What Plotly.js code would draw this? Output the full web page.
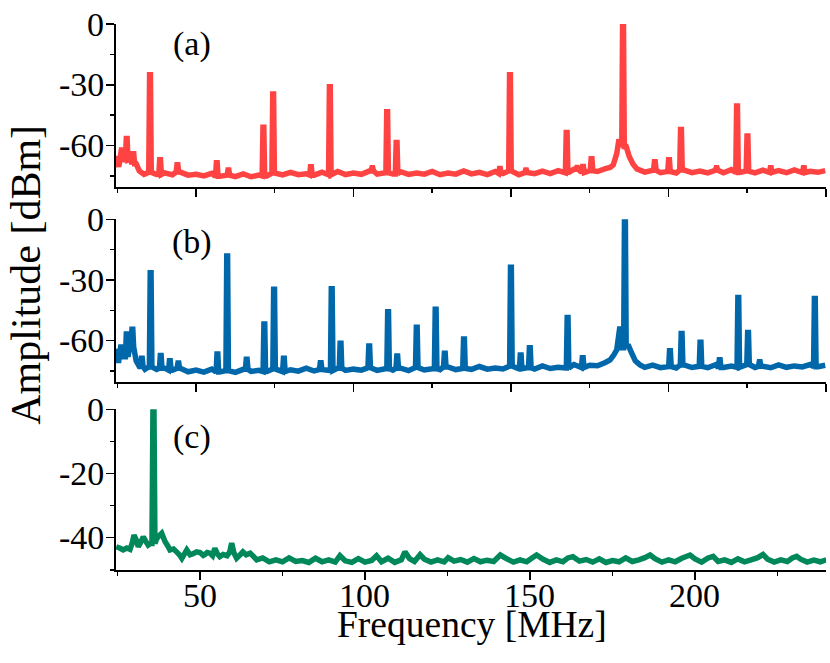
<!DOCTYPE html>
<html><head><meta charset="utf-8">
<script src="https://cdn.plot.ly/plotly-3.0.1.min.js"></script>
<style>html,body{margin:0;padding:0;background:#fff}#chart{width:830px;height:663px}</style>
</head><body><div id="chart"></div>
<script>
// ---------- Panel (a) ----------
const floorFreqA = [24.7,25.5,26.4,27.2,29.0,31.0,32.0,33.5,35,37.5,40,42.5,45,47.5,50,52.5,55,57.5,60,62.5,65,67.5,70,72.5,75,77.5,80,82.5,85,87.5,90,92.5,95,97.5,100,102.5,105,107.5,110,112.5,115,117.5,120,122.5,125,127.5,130,132.5,135,137.5,140,142.5,145,147.5,150,152.5,155,157.5,160,162.5,165,167.5,170,172.5,175,177.5,180,181.5,182.5,183.6,184.3,186.6,187.6,188.7,190,192.5,195,197.5,200,202.5,205,207.5,210,212.5,215,217.5,220,222.5,225,227.5,230,232.5,235,237.5,240,242.5,245,247.5,249.8];
const floorAmpA = [-65,-70.5,-61,-67,-66.5,-69,-72.5,-74.2,-73.2,-74.3,-73.5,-74.4,-73.1,-74.6,-74.2,-75,-73.7,-75.2,-74.6,-75.3,-74,-75.4,-74.6,-75,-73.6,-74.5,-73.2,-74.4,-73.9,-74.6,-73.1,-74.4,-72.8,-74.3,-73.6,-74.2,-72.6,-74.1,-73.4,-74,-72.9,-74.2,-73.5,-74.1,-72.8,-74.4,-73.6,-74.1,-72.5,-74,-73.2,-74.3,-72.8,-73.8,-72.5,-74.4,-73.3,-73.9,-72.6,-73.8,-72.4,-73.5,-71.7,-73.3,-72.4,-72.8,-71.4,-70.8,-69.5,-64,-57,-60.5,-65.5,-69,-71.5,-73.1,-72.2,-73.4,-72.8,-73.5,-72.1,-73.4,-72.6,-73.5,-72.2,-73.4,-71.9,-73.3,-72.6,-73.5,-72.1,-73.2,-72.4,-73.4,-72,-73.3,-72.7,-73.2,-72.4];
const peakFreqA = [28.0,30.1,35.4,38.6,44.1,56.6,60.3,71.4,74.5,86.5,92.5,106,110.7,113.7,146.5,149.7,154.8,167.7,171,172.9,175.6,185.6,195.7,200.2,204,215.3,221.8,225.1,232.5,243];
const peakAmpA  = [-56.5,-64,-25,-67,-69.5,-68.5,-72,-51,-34.5,-70.5,-31,-71,-43.3,-58.5,-71.3,-25,-72,-53.5,-70.8,-70.3,-66.5,3,-68,-67,-52,-71,-40.5,-55.3,-71,-71];

// ---------- Panel (b) ----------
const floorFreqB = [24.7,25.4,26.2,27.0,29.0,31.0,32.0,33.8,35,37.5,40,42.5,45,47.5,50,52.5,55,57.5,60,62.5,65,67.5,70,72.5,75,77.5,80,82.5,85,87.5,90,92.5,95,97.5,100,102.5,105,107.5,110,112.5,115,117.5,120,122.5,125,127.5,130,132.5,135,137.5,140,142.5,145,147.5,150,152.5,155,157.5,160,162.5,165,167.5,170,172.5,175,177.5,180,181.5,182.7,183.6,184.6,185.2,187.2,188.3,189.5,191,192.5,195,197.5,200,202.5,205,207.5,210,212.5,215,217.5,220,222.5,225,227.5,230,232.5,235,237.5,240,242.5,245,247.5,249.8];
const floorAmpB = [-64,-71,-62,-68,-63,-70,-72.8,-74.2,-73,-74.2,-73.6,-74.6,-73.7,-75.4,-74.6,-75.6,-74.1,-75.5,-74.8,-75.7,-74.2,-75.2,-74.7,-75.3,-74,-75.3,-74.4,-75.1,-73.6,-75,-74.3,-74.8,-73.6,-74.7,-74.1,-74.6,-73.4,-74.7,-73.9,-74.6,-73.6,-74.8,-73.3,-74.5,-73.9,-74.4,-73,-74.3,-73.7,-74.2,-72.8,-74.1,-73.5,-74,-72.6,-73.9,-73.4,-74,-72.5,-73.8,-73.2,-73.5,-71.8,-73.3,-72.2,-72.4,-70.8,-69.5,-67,-64.5,-53,-63.5,-62,-66,-70,-72,-73.2,-72.1,-73.4,-72.8,-73.5,-72,-73.3,-72.7,-73.4,-71.9,-73.3,-72.6,-73.2,-71.8,-73.3,-72.7,-73.4,-72,-73.2,-72.5,-73,-71.8,-72.9,-72.2];
const peakFreqB = [28.0,29.8,32.8,35.6,38.8,41.7,44.4,56.8,59.9,66.1,71.7,74.8,77.9,89.6,93.1,95.9,105.0,111.0,113.9,120.1,126.1,129.0,135.1,150.0,153.1,156.0,168.0,172.8,186.2,200.5,204.2,210.2,216.3,222.2,225.3,229.0,246.5];
const peakAmpB  = [-56.7,-54.4,-68.7,-26.4,-67.4,-70,-71,-66.6,-18.1,-69.2,-51.8,-34.6,-68.7,-70.9,-34.3,-61.3,-62.6,-45.7,-67.6,-53.4,-44.5,-66.2,-59.2,-23.7,-67.1,-63.5,-48.5,-68.4,3,-65,-56.4,-60.8,-69.5,-38.6,-56,-70.5,-39.1];

// ---------- Panel (c) ----------
const floorFreqC = [24.6,25.8,26.7,27.8,28.8,29.5,30.0,30.6,31.3,32.0,32.8,33.5,34.3,35.0,36.8,37.3,38.4,39.4,40.2,40.9,42.0,42.9,43.7,44.5,45.3,46.0,47.0,47.9,49.0,50.0,51.0,51.5,52.2,53.0,53.8,54.5,55.2,56.0,57.0,58.2,59.0,59.6,60.3,61.1,62.0,63.0,64.0,65.2,66.2,67.2,69,71,73,75,77,79,81,83,85,87,89,91,92.4,94,96,98,100,102,103.5,105,107,109,111,112.1,113.5,115,116.7,118,120,122,124,125.2,127,129,131,133,135,137,139,141,143,145,147,149,150.5,152,154,156,158,160,161.5,163,165,167,169,171,173,175,177,179,181,183,184.8,186.4,188,190,192,194,196,198.5,200,202,204,205.5,207,209,211,213,215,217,219,220.6,222,224,226,228,229.5,230.8,232,234,236,238,239.8];
const floorAmpC = [-42.8,-43.3,-43.8,-43.2,-43.6,-41.5,-39.2,-40.5,-42.8,-41.5,-39.7,-41,-42.3,-41.8,-40.5,-39.7,-38.6,-41.2,-42.5,-43.8,-43.5,-44.4,-45.2,-46.4,-45,-43.8,-45.3,-45,-44.4,-44.6,-45.5,-45.2,-44.6,-44.8,-45.6,-43.3,-44.9,-45.9,-45.2,-45.6,-44.5,-41.7,-44.8,-46.4,-45.5,-44.4,-45.3,-44.8,-45.8,-46.9,-46.3,-47.5,-46.9,-47.5,-46.3,-47.4,-47.1,-47.7,-46.4,-47.5,-46.9,-47.6,-45.6,-47.2,-47.7,-46.5,-47.6,-47.1,-45.6,-47.5,-46.4,-47.7,-46.9,-44.4,-46.5,-47.4,-45.3,-46.7,-47.6,-46.9,-47.5,-46.2,-47.3,-46.8,-47.6,-46.5,-47.5,-47,-47.4,-45.4,-46.6,-47.6,-46.9,-47.5,-46.4,-45.4,-46.7,-47.7,-46.9,-47.5,-46.3,-45.9,-47.3,-46.8,-47.6,-46.6,-47.7,-47.1,-47.5,-46.3,-47.4,-46.9,-46.2,-45.4,-46.6,-47.6,-46.9,-47.5,-46.4,-45.4,-46.6,-47.6,-46.3,-45.8,-47.4,-46.9,-47.7,-46.6,-47.5,-46.9,-46.2,-45.2,-46.7,-47.6,-46.9,-47.4,-46.3,-45.8,-46.7,-47.6,-47,-47.5,-46.9];
const peakFreqC = [35.9];
const peakAmpC  = [0.6];

// tick labels
const yTickValsAB = [0,-30,-60], yTickTextAB = ['0','-30','-60'], yMinorAB = [-15,-45,-75];
const yTickValsC = [0,-20,-40], yTickTextC = ['0','-20','-40'], yMinorC = [-10,-30,-50];
const xTickVals = [50,100,150,200,250], xMinor = [25,75,125,175,225];
const xLabelVals = [50,100,150,200], xLabelText = ['50','100','150','200'];

function buildSpectrum(ff, fa, pf, pa, w) {
  const pts = [];
  for (let i = 0; i < ff.length; i++) {
    let near = false;
    for (const p of pf) if (Math.abs(ff[i] - p) < w + 0.05) near = true;
    if (!near) pts.push([ff[i], fa[i]]);
  }
  for (let j = 0; j < pf.length; j++) {
    let bi = 0, bd = Infinity;
    for (let i = 0; i < ff.length; i++) { const d = Math.abs(ff[i] - pf[j]); if (d < bd) { bd = d; bi = i; } }
    const base = fa[bi];
    pts.push([pf[j] - w, base], [pf[j] - w / 3, pa[j]], [pf[j] + w / 3, pa[j]], [pf[j] + w, base]);
  }
  pts.sort((a, b) => a[0] - b[0]);
  return { x: pts.map(p => p[0]), y: pts.map(p => p[1]) };
}

const sA = buildSpectrum(floorFreqA, floorAmpA, peakFreqA, peakAmpA, 0.4);
const sB = buildSpectrum(floorFreqB, floorAmpB, peakFreqB, peakAmpB, 0.4);
const sC = buildSpectrum(floorFreqC, floorAmpC, peakFreqC, peakAmpC, 0.45);

const FONT = 'Liberation Serif, Times New Roman, serif';
const lw = 5.5;
const traces = [
  { x: sA.x, y: sA.y, xaxis: 'x', yaxis: 'y', mode: 'lines', line: { color: '#FF4343', width: lw, simplify: false }, hoverinfo: 'skip' },
  { x: sB.x, y: sB.y, xaxis: 'x2', yaxis: 'y2', mode: 'lines', line: { color: '#0067AA', width: lw, simplify: false }, hoverinfo: 'skip' },
  { x: sC.x, y: sC.y, xaxis: 'x3', yaxis: 'y3', mode: 'lines', line: { color: '#00875A', width: lw, simplify: false }, hoverinfo: 'skip' }
];

function xAxis(anchor, range) {
  return {
    domain: [0, 1], anchor: anchor, range: range,
    showline: true, linecolor: '#000', linewidth: 2,
    ticks: 'outside', ticklen: 8, tickwidth: 1.5, tickcolor: '#000',
    tickmode: 'array', tickvals: xTickVals, showticklabels: false,
    minor: { tickmode: 'array', tickvals: xMinor, ticks: 'outside', ticklen: 4, tickwidth: 1.5, tickcolor: '#000', showgrid: false },
    showgrid: false, zeroline: false, fixedrange: true
  };
}
function yAxis(anchor, domain, range, vals, minor) {
  return {
    domain: domain, anchor: anchor, range: range,
    showline: true, linecolor: '#000', linewidth: 2,
    ticks: 'outside', ticklen: 8, tickwidth: 1.5, tickcolor: '#000',
    tickmode: 'array', tickvals: vals, showticklabels: false,
    minor: { tickmode: 'array', tickvals: minor, ticks: 'outside', ticklen: 4, tickwidth: 1.5, tickcolor: '#000', showgrid: false },
    showgrid: false, zeroline: false, fixedrange: true
  };
}

const tickFont = { family: FONT, size: 34, color: '#000' };
const annotations = [];
[['y', yTickValsAB, yTickTextAB], ['y2', yTickValsAB, yTickTextAB], ['y3', yTickValsC, yTickTextC]].forEach(([ax, vals, txt]) => {
  vals.forEach((v, i) => annotations.push({ text: txt[i], xref: 'paper', yref: ax, x: -0.0148, y: v, xanchor: 'right', yanchor: 'middle', showarrow: false, font: tickFont, borderpad: 0 }));
});
xLabelVals.forEach((v, i) => annotations.push({ text: xLabelText[i], xref: 'x3', yref: 'paper', x: v, y: -0.0455, xanchor: 'center', yanchor: 'middle', showarrow: false, font: tickFont, borderpad: 0 }));
annotations.push(
  { text: '(a)', xref: 'paper', yref: 'paper', x: 0.107, y: 0.939, xanchor: 'center', yanchor: 'middle', showarrow: false, font: { family: FONT, size: 34, color: '#000' } },
  { text: '(b)', xref: 'paper', yref: 'paper', x: 0.107, y: 0.586, xanchor: 'center', yanchor: 'middle', showarrow: false, font: { family: FONT, size: 34, color: '#000' } },
  { text: '(c)', xref: 'paper', yref: 'paper', x: 0.107, y: 0.2375, xanchor: 'center', yanchor: 'middle', showarrow: false, font: { family: FONT, size: 34, color: '#000' } },
  { text: 'Amplitude [dBm]', xref: 'paper', yref: 'paper', x: -0.127, y: 0.527, xanchor: 'center', yanchor: 'middle', textangle: -90, showarrow: false, font: { family: FONT, size: 42, color: '#000' }, borderpad: 0 },
  { text: 'Frequency [MHz]', xref: 'paper', yref: 'paper', x: 0.501, y: -0.097, xanchor: 'center', yanchor: 'middle', showarrow: false, font: { family: FONT, size: 37.5, color: '#000' }, borderpad: 0 }
);

const layout = {
  width: 830, height: 663,
  margin: { l: 116, r: 4, t: 10, b: 93 },
  paper_bgcolor: '#fff', plot_bgcolor: '#fff',
  showlegend: false,
  font: { family: FONT, color: '#000' },
  xaxis: xAxis('y', [24.6, 250.05]),
  yaxis: yAxis('x', [0.6834, 0.975], [-80.6, 0.05], yTickValsAB, yMinorAB),
  xaxis2: xAxis('y2', [24.6, 250.05]),
  yaxis2: yAxis('x2', [0.3363, 0.6262], [-80.3, 0.05], yTickValsAB, yMinorAB),
  xaxis3: xAxis('y3', [24.55, 239.7]),
  yaxis3: yAxis('x3', [0, 0.287], [-50.06, 0.05], yTickValsC, yMinorC),
  annotations: annotations
};

Plotly.newPlot('chart', traces, layout, { displayModeBar: false, staticPlot: true });
</script>
</body></html>
